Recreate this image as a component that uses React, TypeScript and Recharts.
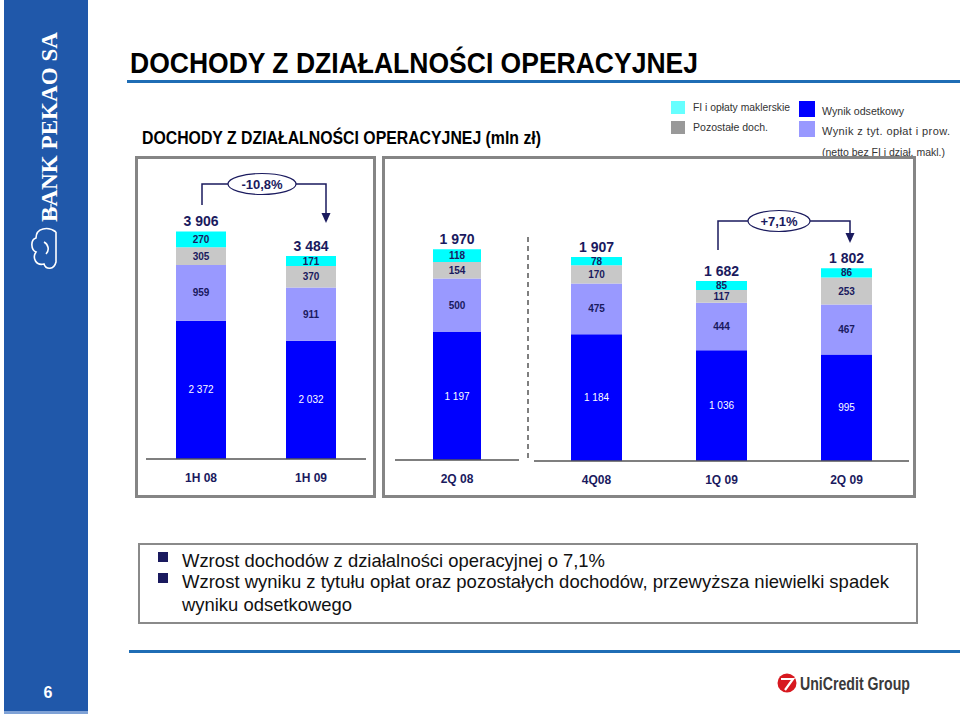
import { BarChart, Bar, XAxis, YAxis, LabelList } from 'recharts'

const FONT = '"Liberation Sans", Arial, Helvetica, sans-serif'
const NAVY = '#1a1a5e'

// values in mln zł
const periods = ['1H 08', '1H 09', '2Q 08', '4Q08', '1Q 09', '2Q 09']
const interestIncome = [2372, 2032, 1197, 1184, 1036, 995]
const feeIncome = [959, 911, 500, 475, 444, 467]
const otherIncome = [305, 370, 154, 170, 117, 253]
const brokerageFees = [270, 171, 118, 78, 85, 86]
const totalIncome = [3906, 3484, 1970, 1907, 1682, 1802]
const changeLabels = ['-10,8%', '+7,1%']

const seriesColors = {
    interest: '#0000FF',
    fees: '#9999FF',
    other: '#C8C8C8',
    brokerage: '#00FFFF',
}

const bullets = [
    ['Wzrost dochodów z działalności operacyjnej o 7,1%'],
    ['Wzrost wyniku z tytułu opłat oraz pozostałych dochodów, przewyższa niewielki spadek', 'wyniku odsetkowego'],
]

const rows = periods.map((period, i) => ({
    period,
    interest: interestIncome[i],
    fees: feeIncome[i],
    other: otherIncome[i],
    brokerage: brokerageFees[i],
    total: totalIncome[i],
}))

const fmt = (v: any) => String(v).replace(/\B(?=(\d{3})+(?!\d))/g, ' ')

const PeriodTick = (props: any) => {
    const { x, y, payload } = props
    return (
        <text x={x} y={y} dy={23} textAnchor="middle" fontSize={12} fontWeight="bold" fill={NAVY} fontFamily={FONT}>
            {payload.value}
        </text>
    )
}

function Panel({ data, left, width, margin, yMax, barSize }: any) {
    const segLabel = { fontSize: 10, fontWeight: 'bold', fill: NAVY, fontFamily: FONT }
    return (
        <div style={{ position: 'absolute', left, top: 160 }}>
            <BarChart width={width} height={340} data={data} margin={margin}>
                <XAxis
                    dataKey="period"
                    axisLine={{ stroke: '#555', strokeWidth: 1.5 }}
                    tickLine={false}
                    tickSize={0}
                    tickMargin={0}
                    height={30}
                    interval={0}
                    tick={<PeriodTick />}
                />
                <YAxis hide domain={[0, yMax]} />
                <Bar dataKey="interest" stackId="a" fill={seriesColors.interest} barSize={barSize} isAnimationActive={false}>
                    <LabelList dataKey="interest" position="center" formatter={fmt} fontSize={10} fill="#fff" fontFamily={FONT} />
                </Bar>
                <Bar dataKey="fees" stackId="a" fill={seriesColors.fees} barSize={barSize} isAnimationActive={false}>
                    <LabelList dataKey="fees" position="center" {...segLabel} />
                </Bar>
                <Bar dataKey="other" stackId="a" fill={seriesColors.other} barSize={barSize} isAnimationActive={false}>
                    <LabelList dataKey="other" position="center" {...segLabel} />
                </Bar>
                <Bar dataKey="brokerage" stackId="a" fill={seriesColors.brokerage} barSize={barSize} isAnimationActive={false}>
                    <LabelList dataKey="brokerage" position="center" {...segLabel} />
                    <LabelList dataKey="total" position="top" offset={5} formatter={fmt} fontSize={14} fontWeight="bold" fill={NAVY} fontFamily={FONT} />
                </Bar>
            </BarChart>
        </div>
    )
}

// change bracket: ellipse with label, line down to first bar, arrow down to second
function ChangeBracket({ cx, cy, rx, fromX, fromY, toX, toY, label }: any) {
    return (
        <g>
            <polyline points={`${cx - rx},${cy} ${fromX},${cy} ${fromX},${fromY}`} fill="none" stroke={NAVY} strokeWidth={1.5} />
            <polyline points={`${cx + rx},${cy} ${toX},${cy} ${toX},${toY - 9}`} fill="none" stroke={NAVY} strokeWidth={1.5} />
            <polygon points={`${toX - 4.5},${toY - 10} ${toX + 4.5},${toY - 10} ${toX},${toY}`} fill={NAVY} />
            <ellipse cx={cx} cy={cy} rx={rx} ry={10.5} fill="#fff" stroke={NAVY} strokeWidth={1.2} />
            <text x={cx} y={cy + 4.5} textAnchor="middle" fontSize={13} fontWeight="bold" fill={NAVY} fontFamily={FONT}>
                {label}
            </text>
        </g>
    )
}

export default function App() {
    return (
        <div style={{ position: 'absolute', left: 0, top: 0, width: 960, height: 716, background: '#fff', overflow: 'hidden', fontFamily: FONT }}>
            <svg width={960} height={716} style={{ position: 'absolute', left: 0, top: 0 }}>
                {/* side strip */}
                <rect x={4} y={0} width={84} height={714} fill="#2058AA" />
                <rect x={4} y={711} width={84} height={3} fill="#7fa2d6" />
                <text
                    transform="translate(57,222) rotate(-90)"
                    fontFamily='"Liberation Serif", "DejaVu Serif", serif'
                    fontWeight="bold"
                    fontSize={24}
                    fill="#fff"
                    textLength={190}
                    lengthAdjust="spacingAndGlyphs"
                >
                    BANK PEKAO SA
                </text>
                <line x1={51} y1={204} x2={51} y2={218} stroke="#fff" strokeWidth={1.2} />
                <path
                    d="M56,232 C48,226 36,228 36,238 C30,240 31,250 36,252 C32,258 36,266 44,264 C46,270 54,270 56,262 L56,232 M44,242 C48,244 50,250 46,254"
                    fill="none"
                    stroke="#fff"
                    strokeWidth={1.6}
                />
                <text x={48} y={698} textAnchor="middle" fontSize={16} fontWeight="bold" fill="#fff" fontFamily={FONT}>6</text>

                {/* titles */}
                <text x={130} y={73} fontSize={29} fontWeight="bold" fill="#000" textLength={568} lengthAdjust="spacingAndGlyphs">
                    DOCHODY Z DZIAŁALNOŚCI OPERACYJNEJ
                </text>
                <rect x={127} y={80} width={833} height={3} fill="#1F6DB5" />
                <text x={142} y={144} fontSize={18} fontWeight="bold" fill="#000" textLength={399} lengthAdjust="spacingAndGlyphs">
                    DOCHODY Z DZIAŁALNOŚCI OPERACYJNEJ (mln zł)
                </text>

                {/* legend */}
                <rect x={671} y={101} width={14} height={13} fill="#66FFFF" />
                <text x={693} y={111} fontSize={11} fill="#333" textLength={97} lengthAdjust="spacingAndGlyphs">FI i opłaty maklerskie</text>
                <rect x={671} y={121} width={14} height={13} fill="#999999" />
                <text x={693} y={131} fontSize={11} fill="#333" textLength={75} lengthAdjust="spacingAndGlyphs">Pozostałe doch.</text>
                <rect x={799} y={101} width={16} height={16} fill={seriesColors.interest} />
                <text x={822} y={115} fontSize={11} fill="#333" textLength={82} lengthAdjust="spacingAndGlyphs">Wynik odsetkowy</text>
                <rect x={799} y={121} width={16} height={16} fill={seriesColors.fees} />
                <text x={822} y={135} fontSize={11} fill="#333" textLength={128} lengthAdjust="spacing">Wynik z tyt. opłat i prow.</text>
                <text x={822} y={156} fontSize={11} fill="#333" textLength={123} lengthAdjust="spacingAndGlyphs">(netto bez FI i dział. makl.)</text>

                {/* panel frames */}
                <rect x={136.5} y={157.5} width={238} height={339} fill="none" stroke="#858585" strokeWidth={3} />
                <rect x={383.5} y={157.5} width={531} height={339} fill="none" stroke="#858585" strokeWidth={3} />
                <line x1={528} y1={237} x2={528} y2={462} stroke="#555" strokeWidth={1.5} strokeDasharray="5 4" />

                <ChangeBracket cx={262} cy={184} rx={34} fromX={202} fromY={205} toX={326} toY={223} label={changeLabels[0]} />
                <ChangeBracket cx={779} cy={221} rx={31} fromX={718} fromY={250} toX={850} toY={243} label={changeLabels[1]} />

                {/* comments box */}
                <rect x={139} y={544} width={778} height={79} fill="none" stroke="#8a8a8a" strokeWidth={2} />
                {bullets.map((lines, i) => (
                    <g key={i}>
                        <rect x={158} y={552 + i * 21} width={10} height={10} fill={NAVY} />
                        {lines.map((line, j) => (
                            <text
                                key={j}
                                x={182}
                                y={567 + i * 21 + j * 23}
                                fontSize={19}
                                fill="#111"
                                textLength={[[423], [707, 170]][i][j]}
                                lengthAdjust="spacingAndGlyphs"
                            >
                                {line}
                            </text>
                        ))}
                    </g>
                ))}

                {/* footer */}
                <rect x={129} y={650} width={831} height={3} fill="#1F6DB5" />
                <circle cx={787} cy={683} r={9.5} fill="#d71920" />
                <path d="M781,679 L793,679 L785,690" fill="none" stroke="#fff" strokeWidth={2.2} />
                <text x={800} y={690} fontSize={19} fontWeight="bold" fill="#3a3a3a" textLength={110} lengthAdjust="spacingAndGlyphs">UniCredit Group</text>
            </svg>

            <Panel data={rows.slice(0, 2)} left={130} width={250} margin={{ top: 66, right: 14, left: 16, bottom: 11 }} yMax={4000} barSize={50} />
            <Panel data={rows.slice(2, 3)} left={385} width={140} margin={{ top: 86, right: 6, left: 10, bottom: 10 }} yMax={2000} barSize={48} />
            <Panel data={rows.slice(3)} left={530} width={385} margin={{ top: 87, right: 6, left: 4, bottom: 9 }} yMax={2000} barSize={51} />
        </div>
    )
}
